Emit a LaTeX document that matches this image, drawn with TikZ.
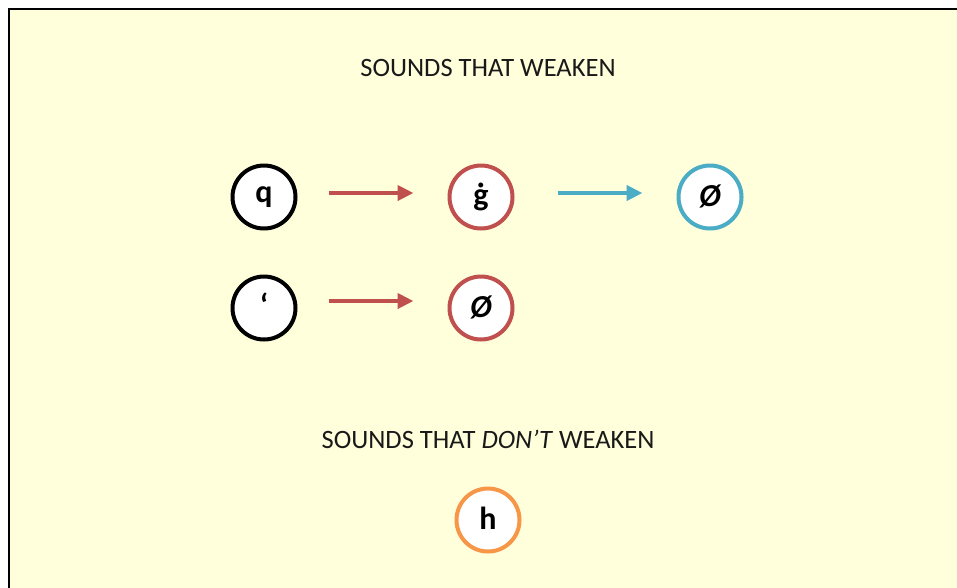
\documentclass[tikz,border=0pt]{standalone}
\usepackage{fontspec}
\setmainfont{Carlito}
\usetikzlibrary{arrows.meta}
\definecolor{bgyellow}{HTML}{FFFFDC}
\definecolor{cred}{HTML}{C0504D}
\definecolor{cblue}{HTML}{4BACC6}
\definecolor{corange}{HTML}{F79646}
\tikzset{
  snd/.style={circle, draw=#1, line width=4pt, fill=white, minimum size=63pt, inner sep=0pt, font=\fontsize{32}{36}\selectfont\bfseries},
  title/.style={font=\fontsize{26.5}{30}\selectfont, text=black!90},
  arr/.style={draw=#1, line width=4pt, -{Triangle[length=16pt,width=15pt]}},
}
\begin{document}
\begin{tikzpicture}[x=1pt,y=-1pt]
\useasboundingbox (0,0) rectangle (957,587);
\begin{scope}
\clip (0,0) rectangle (957,587);
\fill[black!45] (8,7.5) rectangle (970,600);
\fill[bgyellow, draw=black, line width=1.2pt] (9,9) rectangle (975,600);
\end{scope}
\node[title] (t1) at (488,68) {SOUNDS THAT WEAKEN};
\node[title] (t2) at (488,439) {SOUNDS THAT \textit{DON’T} WEAKEN};
\node[snd=black] (q) at (264,197) {\raisebox{3pt}{q}};
\node[snd=cred] (g) at (481,197) {\raisebox{3pt}{ġ}};
\node[snd=cblue] (z1) at (710,197) {\raisebox{3pt}{\itshape Ø}};
\node[snd=black] (ay) at (264,308) {\raisebox{6pt}{‘}};
\node[snd=cred] (z2) at (481,308) {\raisebox{3pt}{\itshape Ø}};
\node[snd=corange] (h) at (488,520) {\raisebox{3pt}{h}};
\draw[arr=cred] ([shift={(31pt,4pt)}]q.east) -- ([shift={(-34pt,4pt)}]g.west);
\draw[arr=cblue] ([shift={(43pt,4pt)}]g.east) -- ([shift={(-34pt,4pt)}]z1.west);
\draw[arr=cred] ([shift={(31pt,7pt)}]ay.east) -- ([shift={(-34pt,7pt)}]z2.west);
\end{tikzpicture}
\end{document}
